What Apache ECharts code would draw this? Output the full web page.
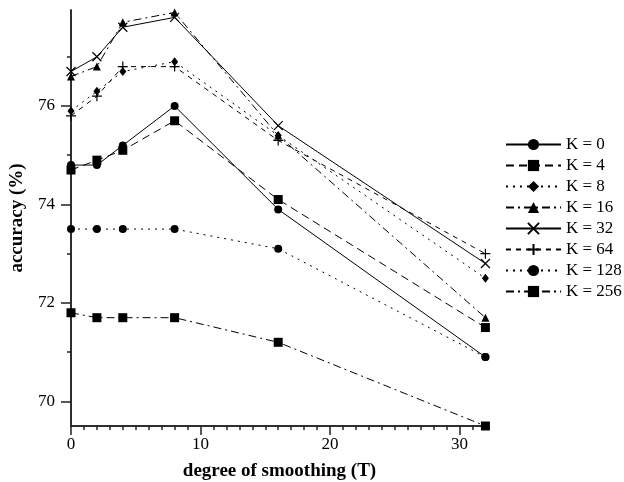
<!DOCTYPE html>
<html>
<head>
<meta charset="utf-8">
<script src="https://cdn.jsdelivr.net/npm/echarts@6/dist/echarts.min.js"></script>
<style>
  html, body { margin: 0; padding: 0; background: #fff; }
  #chart { width: 624px; height: 482px; }
</style>
</head>
<body>
<div id="chart"></div>
<script>
  // smoothing degree T
  var smoothing = [0, 2, 4, 8, 16, 32];
  // accuracy (%) per K
  var k0   = [74.8, 74.8, 75.2, 76.0, 73.9, 70.9];
  var k4   = [74.7, 74.9, 75.1, 75.7, 74.1, 71.5];
  var k8   = [75.9, 76.3, 76.7, 76.9, 75.4, 72.5];
  var k16  = [76.6, 76.8, 77.7, 77.9, 75.4, 71.7];
  var k32  = [76.7, 77.0, 77.6, 77.8, 75.6, 72.8];
  var k64  = [75.8, 76.2, 76.8, 76.8, 75.3, 73.0];
  var k128 = [73.5, 73.5, 73.5, 73.5, 73.1, 70.9];
  var k256 = [71.8, 71.7, 71.7, 71.7, 71.2, 69.5];

  var xMajor = [0, 10, 20, 30];
  var xMinor = [1,2,3,4,5,6,7,8,9,11,12,13,14,15,16,17,18,19,21,22,23,24,25,26,27,28,29,31,32];
  var yMajor = [70, 72, 74, 76];
  var yMinor = [71, 73, 75, 77];

  var FONT = 'Liberation Serif';
  var CROSS = 'path://M0,0L10,10M10,0L0,10';
  var PLUS = 'path://M5,0L5,10M0,5L10,5';

  function pts(vals) {
    return smoothing.map(function (t, i) { return [t, vals[i]]; });
  }

  function line(name, vals, dash, symbol, size, stroke) {
    return {
      name: name,
      type: 'line',
      data: pts(vals),
      symbol: symbol,
      symbolSize: size,
      showAllSymbol: true,
      lineStyle: { color: '#000', width: 1, type: dash },
      itemStyle: stroke
        ? { color: '#000', borderColor: '#000', borderWidth: 1.2 }
        : { color: '#000', borderWidth: 0 },
      emphasis: { disabled: true }
    };
  }

  var chart = echarts.init(document.getElementById('chart'));
  chart.setOption({
    animation: false,
    backgroundColor: '#fff',
    textStyle: { fontFamily: FONT, color: '#000' },
    grid: { left: 71, right: 136, top: 10, bottom: 56, outerBoundsMode: 'none', containLabel: false },
    legend: {
      orient: 'vertical',
      left: 500,
      top: 131,
      itemWidth: 55,
      itemHeight: 14,
      itemGap: 4,
      textStyle: { fontFamily: FONT, fontSize: 17, color: '#000' },
      data: ['K = 0', 'K = 4', 'K = 8', 'K = 16', 'K = 32', 'K = 64', 'K = 128', 'K = 256']
    },
    xAxis: [
      {
        type: 'value', min: 0, max: 32.2,
        name: 'degree of smoothing (T)',
        nameLocation: 'middle',
        nameGap: 36,
        nameTextStyle: { fontFamily: FONT, fontSize: 19, fontWeight: 'bold', color: '#000' },
        splitLine: { show: false },
        axisLine: { show: true, onZero: false, lineStyle: { color: '#222', width: 1.5 } },
        axisTick: { show: true, customValues: xMajor, length: 9, lineStyle: { color: '#222', width: 1.5 } },
        axisLabel: { customValues: xMajor, fontFamily: FONT, fontSize: 17, color: '#000', margin: 10 }
      },
      {
        type: 'value', min: 0, max: 32.2, position: 'bottom', offset: 0,
        splitLine: { show: false },
        axisLine: { show: true, onZero: false, lineStyle: { color: '#222', width: 1.5 } },
        axisTick: { show: true, customValues: xMinor, length: 4, lineStyle: { color: '#222', width: 1.5 } },
        axisLabel: { show: false }
      }
    ],
    yAxis: [
      {
        type: 'value', min: 69.5, max: 77.95,
        name: 'accuracy (%)',
        nameLocation: 'middle',
        nameGap: 44,
        nameTextStyle: { fontFamily: FONT, fontSize: 19, fontWeight: 'bold', color: '#000' },
        splitLine: { show: false },
        axisLine: { show: true, onZero: false, lineStyle: { color: '#222', width: 1.5 } },
        axisTick: { show: true, customValues: yMajor, length: 10, lineStyle: { color: '#222', width: 1.5 } },
        axisLabel: { customValues: yMajor, fontFamily: FONT, fontSize: 17, color: '#000', margin: 16 }
      },
      {
        type: 'value', min: 69.5, max: 77.95, position: 'left', offset: 0,
        splitLine: { show: false },
        axisLine: { show: true, onZero: false, lineStyle: { color: '#222', width: 1.5 } },
        axisTick: { show: true, customValues: yMinor, length: 4, lineStyle: { color: '#222', width: 1.5 } },
        axisLabel: { show: false }
      }
    ],
    series: [
      line('K = 0', k0, 'solid', 'circle', 8),
      line('K = 4', k4, [8, 5], 'rect', 9),
      line('K = 8', k8, [2, 5], 'diamond', [7, 9]),
      line('K = 16', k16, [8, 4, 2, 4], 'triangle', 8),
      line('K = 32', k32, 'solid', CROSS, 9, true),
      line('K = 64', k64, [5, 5], PLUS, 10, true),
      line('K = 128', k128, [2, 5], 'circle', 8),
      line('K = 256', k256, [8, 4, 2, 4], 'rect', 9),
      // empty series so the minor-tick axes are laid out
      { type: 'line', name: 'minor', xAxisIndex: 1, yAxisIndex: 1, data: [], silent: true }
    ]
  });
</script>
</body>
</html>
